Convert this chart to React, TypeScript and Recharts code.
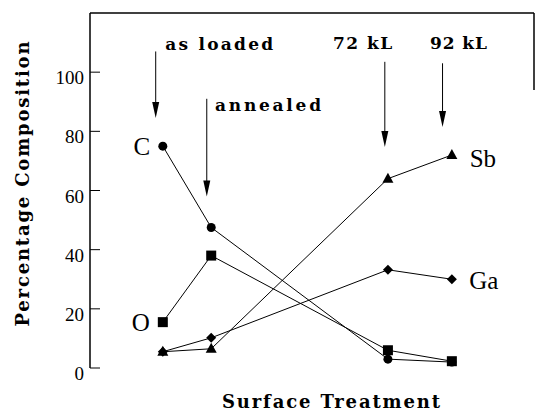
import React from "react"
import {
  LineChart,
  Line,
  XAxis,
  YAxis,
  ReferenceLine,
  LabelList,
} from "recharts"

const treatmentX = [16.4, 27.3, 67.1, 81.5]
const carbon = [75, 47.5, 3, 2]
const oxygen = [15.5, 38, 6, 2.3]
const antimony = [5.5, 6.5, 64, 72]
const gallium = [5.5, 10.2, 33.2, 30]
const yTicks = [0, 20, 40, 60, 80, 100]

// arrow annotations: x, top of shaft, tip, label
const arrowX = [14.8, 26.3, 66.4, 79.4]
const arrowTop = [107, 91, 103.5, 103]
const arrowTip = [84.5, 58, 74.7, 81.5]
const arrowText = ["as loaded", "annealed", "72 kL", "92 kL"]
const arrowTextX = [29.1, 40.1, 61.4, 83]
const arrowTextY = [109.5, 88.9, 109.9, 109.9]
const arrowTextW = [108, 106, 59, 57]

const data = treatmentX.map((x, i) => ({
  x,
  C: carbon[i],
  O: oxygen[i],
  Sb: antimony[i],
  Ga: gallium[i],
}))

const serif = "'Liberation Serif', serif"
const boldSerif = "'DejaVu Serif', serif"

const Circle = (p: any) => <circle cx={p.cx} cy={p.cy} r={4.5} fill="#000" />
const Square = (p: any) => (
  <rect x={p.cx - 5} y={p.cy - 5} width={10} height={10} fill="#000" />
)
const Tri = (p: any) => (
  <polygon
    points={`${p.cx},${p.cy - 6} ${p.cx + 5.5},${p.cy + 4} ${p.cx - 5.5},${p.cy + 4}`}
    fill="#000"
  />
)
const Diamond = (p: any) => (
  <polygon
    points={`${p.cx},${p.cy - 5} ${p.cx + 5},${p.cy} ${p.cx},${p.cy + 5} ${p.cx - 5},${p.cy}`}
    fill="#000"
  />
)

const YTick = (p: any) => (
  <g>
    <line x1={p.x + 6} y1={p.y} x2={p.x + 16} y2={p.y} stroke="#000" />
    <text
      x={p.x}
      y={p.y + 12}
      textAnchor="end"
      fontFamily={serif}
      fontSize={19}
      fill="#000"
    >
      {p.payload.value}
    </text>
  </g>
)

const Arrow = (p: any) => {
  const { x1, y1, x2, y2 } = p
  return (
    <g>
      <line x1={x1} y1={y1} x2={x2} y2={y2 - 12} stroke="#000" strokeWidth={1} />
      <polygon
        points={`${x2 - 3.5},${y2 - 16} ${x2 + 3.5},${y2 - 16} ${x2},${y2}`}
        fill="#000"
      />
    </g>
  )
}

const seriesLabel = (text: string, index: number, dx: number, dy: number) => (p: any) => {
  if (p.index !== index) return null
  return (
    <text
      x={p.x + dx}
      y={p.y + dy}
      fontFamily={serif}
      fontSize={25}
      fill="#000"
      textAnchor="middle"
      dominantBaseline="central"
    >
      {text}
    </text>
  )
}

export default function App() {
  return (
    <div style={{ position: "absolute", left: 0, top: 0 }}>
      <LineChart
        width={535}
        height={411}
        data={data}
        margin={{ top: 13, right: 1, left: 0, bottom: 43 }}
      >
        <XAxis
          type="number"
          dataKey="x"
          domain={[0, 100]}
          tick={false}
          tickLine={false}
          axisLine={{ stroke: "#000", strokeWidth: 1.5 }}
          height={0}
        />
        <YAxis
          domain={[0, 120]}
          ticks={yTicks}
          width={90}
          tickSize={0}
          tickMargin={6}
          tick={<YTick />}
          axisLine={{ stroke: "#000", strokeWidth: 1.5 }}
        />
        <ReferenceLine y={120} stroke="#000" strokeWidth={1.5} />
        <ReferenceLine
          segment={[{ x: 100, y: 120 }, { x: 100, y: 94 }]}
          stroke="#000"
          strokeWidth={1.5}
        />
        {arrowX.map((x, i) => (
          <ReferenceLine
            key={"a" + i}
            segment={[{ x, y: arrowTop[i] }, { x, y: arrowTip[i] }]}
            shape={<Arrow />}
          />
        ))}
        {arrowX.map((_, i) => (
          <ReferenceLine
            key={"t" + i}
            segment={[
              { x: arrowTextX[i], y: arrowTextY[i] },
              { x: arrowTextX[i], y: arrowTextY[i] },
            ]}
            shape={(p: any) => (
              <text
                x={p.x1}
                y={p.y1}
                textAnchor="middle"
                dominantBaseline="central"
                fontFamily={boldSerif}
                fontWeight="bold"
                fontSize={17}
                textLength={arrowTextW[i]}
                lengthAdjust="spacing"
                fill="#000"
              >
                {arrowText[i]}
              </text>
            )}
          />
        ))}
        <Line dataKey="C" stroke="#000" strokeWidth={1} dot={<Circle />} isAnimationActive={false}>
          <LabelList content={seriesLabel("C", 0, -21, 0)} />
        </Line>
        <Line dataKey="O" stroke="#000" strokeWidth={1} dot={<Square />} isAnimationActive={false}>
          <LabelList content={seriesLabel("O", 0, -22, 0)} />
        </Line>
        <Line dataKey="Sb" stroke="#000" strokeWidth={1} dot={<Tri />} isAnimationActive={false}>
          <LabelList content={seriesLabel("Sb", 3, 31, 3)} />
        </Line>
        <Line dataKey="Ga" stroke="#000" strokeWidth={1} dot={<Diamond />} isAnimationActive={false}>
          <LabelList content={seriesLabel("Ga", 3, 32, 1)} />
        </Line>
      </LineChart>
      <svg
        width={535}
        height={411}
        style={{ position: "absolute", left: 0, top: 0, pointerEvents: "none" }}
      >
        <text
          transform="translate(22,184) rotate(-90)"
          textAnchor="middle"
          dominantBaseline="central"
          fontFamily={boldSerif}
          fontWeight="bold"
          fontSize={18}
          textLength={285}
          lengthAdjust="spacing"
        >
          Percentage Composition
        </text>
        <text
          x={331}
          y={401}
          textAnchor="middle"
          dominantBaseline="central"
          fontFamily={boldSerif}
          fontWeight="bold"
          fontSize={18}
          textLength={218}
          lengthAdjust="spacing"
        >
          Surface Treatment
        </text>
      </svg>
    </div>
  )
}
